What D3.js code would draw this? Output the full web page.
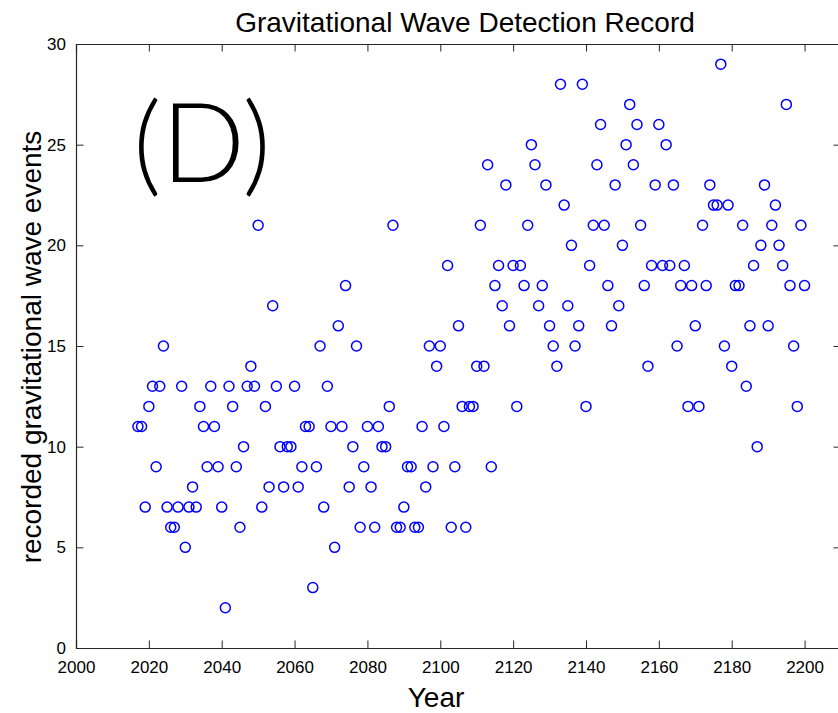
<html>
<head>
<style type="text/css">
  body { margin: 0; background: #fff; }
  text { font-family: "Liberation Sans", Arial, Helvetica, sans-serif; fill: #000; }
  .axis path, .axis line { stroke: #262626; }
  circle { fill: none; stroke: #0000ff; stroke-width: 1.5px; }
</style>
<script src="https://d3js.org/d3.v7.min.js"></script>
</head>
<body>
<script type="text/javascript">
// one record per year, 2017..2200
var firstYear = 2017;
var events = [
  11, 11, 7, 12, 13, 9, 13, 15, 7, 6, 6, 7, 13, 5, 7, 8, 7, 12, 11, 9, 13, 11, 9,   // 2017-2039
  7, 2, 13, 12, 9, 6, 10, 13, 14, 13, 21, 7, 12, 8, 17, 13, 10, 8, 10, 10,         // 2040-2059
  13, 8, 9, 11, 11, 3, 9, 15, 7, 13, 11, 5, 16, 11, 18, 8, 10, 15, 6, 9,           // 2060-2079
  11, 8, 6, 11, 10, 10, 12, 21, 6, 6, 7, 9, 9, 6, 6, 11, 8, 15, 9, 14,             // 2080-2099
  15, 11, 19, 6, 9, 16, 12, 6, 12, 12, 14, 21, 14, 24, 9, 18, 19, 17, 23, 16,      // 2100-2119
  19, 12, 19, 18, 21, 25, 24, 17, 18, 23, 16, 15, 14, 28, 22, 17, 20, 15, 16, 28,  // 2120-2139
  12, 19, 21, 24, 26, 21, 18, 16, 23, 17, 20, 25, 27, 24, 26, 21, 18, 14, 19, 23,  // 2140-2159
  26, 19, 25, 19, 23, 15, 18, 19, 12, 18, 16, 12, 21, 18, 23, 22, 22, 29, 15, 22,  // 2160-2179
  14, 18, 18, 21, 13, 16, 19, 10, 20, 23, 16, 21, 22, 20, 19, 27, 18, 15, 12, 21,  // 2180-2199
  18                                                                               // 2200
];
var years = events.map(function(d, i) { return firstYear + i; });
var xTicks = [2000, 2020, 2040, 2060, 2080, 2100, 2120, 2140, 2160, 2180, 2200];
var yTicks = [0, 5, 10, 15, 20, 25, 30];

var width = 838, height = 713;
var mLeft = 76, mRight = 841, mTop = 44, mBottom = 648;

var x = d3.scaleLinear().domain([2000, 2210]).range([mLeft, mRight]);
var y = d3.scaleLinear().domain([0, 30]).range([mBottom, mTop]);

var svg = d3.select('body').append('svg')
    .attr('width', width)
    .attr('height', height);

// box + inward ticks on all four sides
svg.append('g').attr('class', 'axis')
    .attr('transform', 'translate(0,' + mBottom + ')')
    .call(d3.axisBottom(x).tickValues(xTicks).tickSize(-7.5).tickPadding(13).tickFormat(d3.format('d')))
    .call(function(g) { g.selectAll('text').style('font-size', '17px').attr('fill', '#000'); });

svg.append('g').attr('class', 'axis')
    .attr('transform', 'translate(0,' + mTop + ')')
    .call(d3.axisTop(x).tickValues(xTicks).tickSize(-7.5).tickFormat(''));

svg.append('g').attr('class', 'axis')
    .attr('transform', 'translate(' + mLeft + ',0)')
    .call(d3.axisLeft(y).tickValues(yTicks).tickSize(-7.5).tickPadding(10))
    .call(function(g) { g.selectAll('text').style('font-size', '17px').attr('fill', '#000'); });

svg.append('g').attr('class', 'axis')
    .attr('transform', 'translate(' + mRight + ',0)')
    .call(d3.axisRight(y).tickValues(yTicks).tickSize(-7.5).tickFormat(''));

svg.selectAll('.axis path').attr('stroke-width', 1.2);

svg.append('g')
  .selectAll('circle')
  .data(events)
  .enter()
  .append('circle')
    .attr('cx', function(d, i) { return x(years[i]); })
    .attr('cy', function(d) { return y(d); })
    .attr('r', 5);

svg.append('text')
    .text('Gravitational Wave Detection Record')
    .attr('x', 465).attr('y', 32)
    .attr('text-anchor', 'middle')
    .style('font-size', '28px');

svg.append('text')
    .text('Year')
    .attr('x', 436).attr('y', 707)
    .attr('text-anchor', 'middle')
    .style('font-size', '28px');

svg.append('text')
    .text('recorded gravitational wave events')
    .attr('transform', 'translate(41,347) rotate(-90)')
    .attr('text-anchor', 'middle')
    .style('font-size', '28px');

svg.append('text')
    .text('(D)')
    .attr('x', 133).attr('y', 182)
    .style('font-family', 'Lato, "Liberation Sans", sans-serif')
    .style('font-weight', 300)
    .style('font-size', '110px');
</script>
</body>
</html>
